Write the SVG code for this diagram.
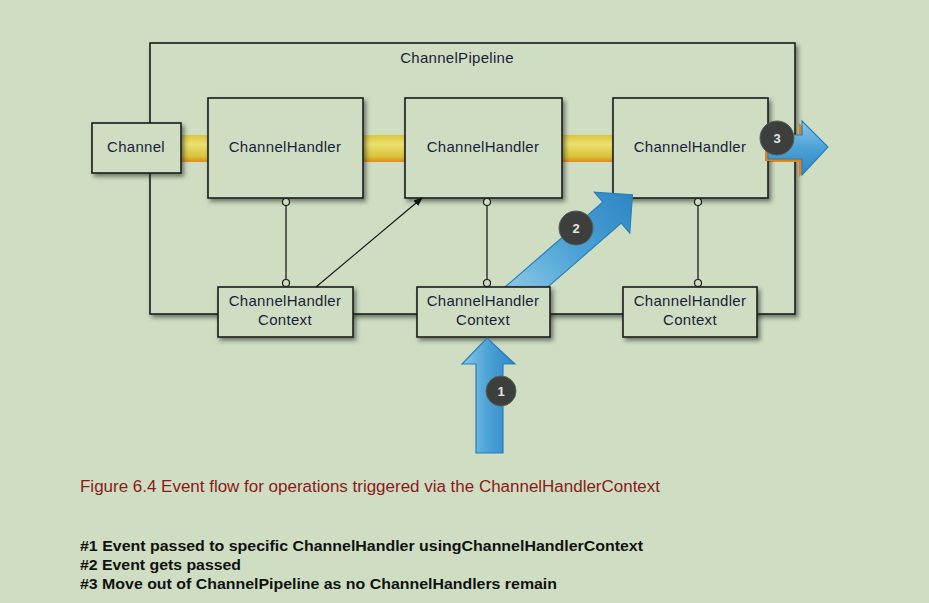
<svg xmlns="http://www.w3.org/2000/svg" width="929" height="603" viewBox="0 0 929 603">
<defs>
<style>
.box{fill:#cfdec3;stroke:#1c1c1c;stroke-width:1.6}
.lbl{font-family:"Liberation Sans",Arial,sans-serif;font-size:15px;fill:#1c1c3a;text-anchor:middle;letter-spacing:0.3px}
.conn{stroke:#1c1c1c;stroke-width:1.3;fill:none}
.dot{fill:#cfdec3;stroke:#1c1c1c;stroke-width:1.2}
.badge{fill:#3c3f3c;stroke:#5a5d58;stroke-width:1}
.num{font-family:"Liberation Sans",Arial,sans-serif;font-size:13px;font-weight:bold;fill:#e6e6e6;text-anchor:middle}
.cap{font-family:"Liberation Sans",Arial,sans-serif;font-size:16px;fill:#8a1a1a}
.note{font-family:"Liberation Sans",Arial,sans-serif;font-size:15px;font-weight:bold;fill:#111}
.blue{stroke:#2a7fb8;stroke-width:1.2}
</style>
<filter id="sh" x="-10%" y="-10%" width="130%" height="140%">
<feDropShadow dx="2.5" dy="3" stdDeviation="2" flood-color="#1a2a1a" flood-opacity="0.55"/>
</filter>
<linearGradient id="yel" x1="0" y1="0" x2="0" y2="1">
<stop offset="0" stop-color="#d9c63c"/>
<stop offset="0.35" stop-color="#ece070"/>
<stop offset="0.8" stop-color="#d8c236"/>
<stop offset="1" stop-color="#e08a20"/>
</linearGradient>
<linearGradient id="bluev" x1="0" y1="0" x2="1" y2="0">
<stop offset="0" stop-color="#8cc8e6"/>
<stop offset="0.5" stop-color="#4aa2d6"/>
<stop offset="1" stop-color="#2f86c4"/>
</linearGradient>
<linearGradient id="blueh" x1="0" y1="0" x2="0" y2="1">
<stop offset="0" stop-color="#8cc8e6"/>
<stop offset="0.5" stop-color="#4aa2d6"/>
<stop offset="1" stop-color="#2f86c4"/>
</linearGradient>
<marker id="ah" viewBox="0 0 10 10" refX="9" refY="5" markerWidth="9" markerHeight="9" orient="auto" markerUnits="userSpaceOnUse">
<path d="M0,1 L10,5 L0,9 Z" fill="#111"/>
</marker>
</defs>
<rect x="0" y="0" width="929" height="603" fill="#cfdec3"/>

<g id="pipeline">
<rect class="box" x="150" y="43" width="645" height="271" filter="url(#sh)"/>
<text class="lbl" x="457" y="63">ChannelPipeline</text>
</g>

<g id="eventbar">
<rect x="180" y="135" width="623" height="27" fill="url(#yel)"/>
</g>

<g id="channel">
<rect class="box" x="92" y="123" width="89" height="50" filter="url(#sh)"/>
<text class="lbl" x="136" y="152">Channel</text>
</g>
<g id="handler1">
<rect class="box" x="208" y="98" width="155" height="100" filter="url(#sh)"/>
<text class="lbl" x="285" y="152">ChannelHandler</text>
</g>
<g id="handler2">
<rect class="box" x="405" y="98" width="157" height="100" filter="url(#sh)"/>
<text class="lbl" x="483" y="152">ChannelHandler</text>
</g>
<g id="handler3">
<rect class="box" x="613" y="98" width="155" height="100" filter="url(#sh)"/>
<text class="lbl" x="690" y="152">ChannelHandler</text>
</g>

<g id="connectors">
<line class="conn" x1="286" y1="204" x2="286" y2="280"/>
<circle class="dot" cx="286" cy="202" r="3.5"/>
<circle class="dot" cx="286" cy="283" r="3.5"/>
<line class="conn" x1="487" y1="204" x2="487" y2="280"/>
<circle class="dot" cx="487" cy="202" r="3.5"/>
<circle class="dot" cx="487" cy="283" r="3.5"/>
<line class="conn" x1="698" y1="204" x2="698" y2="280"/>
<circle class="dot" cx="698" cy="202" r="3.5"/>
<circle class="dot" cx="698" cy="283" r="3.5"/>
<line x1="316" y1="287" x2="422" y2="198" stroke="#111" stroke-width="1.1" marker-end="url(#ah)"/>
</g>

<g id="flow2">
<polygon class="blue" fill="url(#bluev)" transform="translate(523,290) rotate(-41)" points="-12,-14 118,-14 118,-27 145,0 118,27 118,14 -12,14"/>
</g>

<g id="context1">
<rect class="box" x="218" y="287" width="135" height="50" filter="url(#sh)"/>
<text class="lbl" x="285" y="306">ChannelHandler</text>
<text class="lbl" x="285" y="325">Context</text>
</g>
<g id="context2">
<rect class="box" x="417" y="287" width="133" height="50" filter="url(#sh)"/>
<text class="lbl" x="483" y="306">ChannelHandler</text>
<text class="lbl" x="483" y="325">Context</text>
</g>
<g id="context3">
<rect class="box" x="623" y="287" width="134" height="50" filter="url(#sh)"/>
<text class="lbl" x="690" y="306">ChannelHandler</text>
<text class="lbl" x="690" y="325">Context</text>
</g>

<g id="flow1">
<polygon class="blue" fill="url(#bluev)" points="476,453 476,364 462,364 487,338 515,364 503,364 503,453"/>
</g>

<g id="flow3">
<polygon fill="#e0801c" transform="translate(-3,2)" points="768,135 802,135 802,121 828,147 802,175 802,159 768,159"/>
<polygon class="blue" fill="url(#blueh)" points="768,135 802,135 802,121 828,147 802,175 802,159 768,159"/>
</g>

<g id="badges">
<circle class="badge" cx="501" cy="391" r="15"/>
<text class="num" x="501" y="396">1</text>
<circle class="badge" cx="576" cy="228" r="17"/>
<text class="num" x="576" y="233">2</text>
<circle class="badge" cx="777" cy="138" r="17"/>
<text class="num" x="777" y="143">3</text>
</g>

<g id="caption">
<text class="cap" x="80" y="492" textLength="580" lengthAdjust="spacingAndGlyphs">Figure 6.4 Event flow for operations triggered via the ChannelHandlerContext</text>
<text class="note" x="80" y="551" textLength="563" lengthAdjust="spacingAndGlyphs">#1 Event passed to specific ChannelHandler usingChannelHandlerContext</text>
<text class="note" x="80" y="570" textLength="161" lengthAdjust="spacingAndGlyphs">#2 Event gets passed</text>
<text class="note" x="80" y="589" textLength="477" lengthAdjust="spacingAndGlyphs">#3 Move out of ChannelPipeline as no ChannelHandlers remain</text>
</g>
</svg>
